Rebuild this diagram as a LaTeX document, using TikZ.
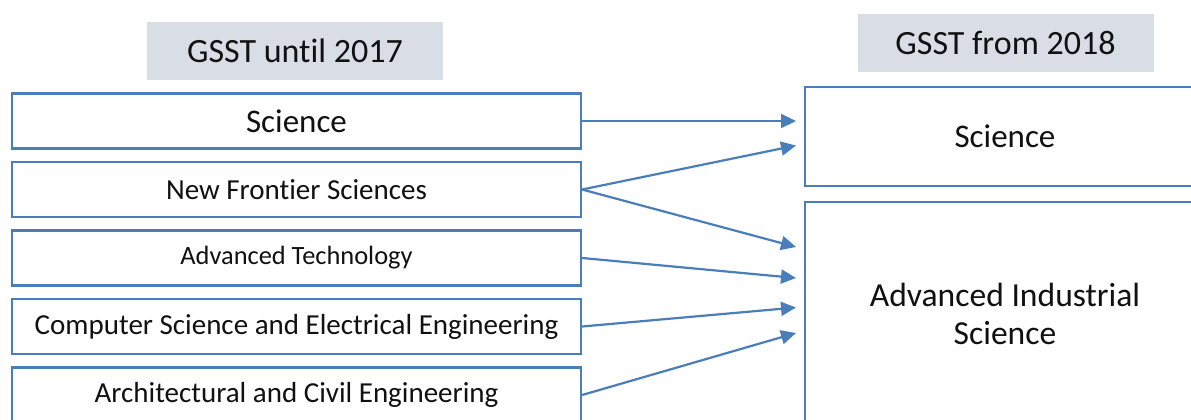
\documentclass[tikz,border=0pt]{standalone}
\usepackage{fontspec}
\setmainfont{Carlito}[RawFeature=-liga]
\usetikzlibrary{arrows.meta}
\definecolor{boxblue}{HTML}{4A7EBB}
\definecolor{hdrfill}{HTML}{D8DDE6}
\definecolor{txt}{HTML}{111111}
\begin{document}
\begin{tikzpicture}[x=1pt,y=-1pt,
  hdr/.style={fill=hdrfill,draw=none,minimum width=296pt,minimum height=58pt,inner sep=0pt,text=txt,font=\fontsize{34}{40}\selectfont},
  oldbox/.style={draw=boxblue,line width=2.2pt,fill=white,minimum width=569pt,minimum height=55pt,inner sep=0pt,text=txt},
  newbox/.style={draw=boxblue,line width=2.2pt,fill=white,minimum width=400pt,inner sep=0pt,text=txt,align=center},
  conn/.style={draw=boxblue,line width=2.2pt,-{Triangle[length=15pt,width=14pt]}}
]
\useasboundingbox (0,0) rectangle (1191,420);
\clip (0,0) rectangle (1191,420);
\fill[white] (0,0) rectangle (1191,420);
% headers
\node[hdr] (h1) at (295,51) {GSST until 2017};
\node[hdr] (h2) at (1005.5,43) {GSST from 2018};
% old boxes
\node[oldbox,font=\fontsize{33}{38}\selectfont] (o1) at (296.5,121) {Science};
\node[oldbox,font=\fontsize{29}{34}\selectfont] (o2) at (296.5,189.5) {New Frontier Sciences};
\node[oldbox,font=\fontsize{26.4}{31}\selectfont] (o3) at (296.5,258) {Advanced Technology};
\node[oldbox,font=\fontsize{29}{34}\selectfont] (o4) at (296.5,326.5) {Computer Science and Electrical Engineering};
\node[oldbox,font=\fontsize{29}{34}\selectfont] (o5) at (296.5,395) {Architectural and Civil Engineering};
% new boxes
\node[newbox,minimum height=99pt,font=\fontsize{33}{38}\selectfont] (n1) at (1005,136.5) {Science};
\node[newbox,minimum height=224pt,font=\fontsize{33.6}{38.5}\selectfont] (n2) at (1005,314) {Advanced Industrial\\Science};
% arrow targets
\coordinate (t1) at (796,121);
\coordinate (t2) at (796,145.5);
\coordinate (t3) at (796,247);
\coordinate (t4) at (796,278);
\coordinate (t5) at (796,307.5);
\coordinate (t6) at (796,333);
\draw[conn] (o1.east) -- (t1);
\draw[conn] (o2.east) -- (t2);
\draw[conn] (o2.east) -- (t3);
\draw[conn] (o3.east) -- (t4);
\draw[conn] (o4.east) -- (t5);
\draw[conn] (o5.east) -- (t6);
\end{tikzpicture}
\end{document}
